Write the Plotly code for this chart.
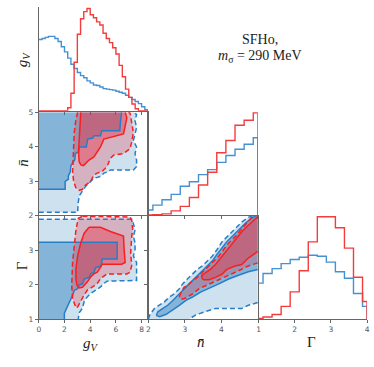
import numpy as np
import plotly.graph_objects as go

# ---- 1D marginals (normalised heights) ----
gv_centers = [0.125 + 0.25 * i for i in range(34)]
gv_blue = [0.69, 0.70, 0.71, 0.72, 0.72, 0.70, 0.67, 0.62, 0.57, 0.51, 0.45, 0.41,
           0.37, 0.34, 0.32, 0.29, 0.27, 0.25, 0.245, 0.23, 0.215, 0.21, 0.205, 0.20,
           0.19, 0.18, 0.17, 0.15, 0.13, 0.11, 0.09, 0.07, 0.04, 0.01]
gv_red = [0, 0, 0, 0, 0, 0, 0, 0, 0, 0.03, 0.17, 0.47, 0.74, 0.89, 0.96, 0.99,
          0.93, 0.90, 0.86, 0.83, 0.75, 0.70, 0.66, 0.61, 0.55, 0.44, 0.33, 0.21,
          0.13, 0.066, 0.02, 0, 0, 0]

nbar_centers = [2.0, 2.25, 2.5, 2.75, 3.0, 3.25, 3.5, 3.75, 4.0, 4.25, 4.5, 4.75, 5.0]
nbar_blue = [0.053, 0.10, 0.152, 0.205, 0.284, 0.328, 0.397, 0.446, 0.517, 0.584, 0.644, 0.694, 0.757]
nbar_red = [0.005, 0.006, 0.015, 0.044, 0.088, 0.175, 0.296, 0.42, 0.61, 0.73, 0.878, 0.928, 1.0]

gam_centers = [1.0, 1.25, 1.5, 1.75, 2.0, 2.25, 2.5, 2.75, 3.0, 3.25, 3.5, 3.75, 4.0]
gam_blue = [0.349, 0.443, 0.49, 0.538, 0.579, 0.60, 0.62, 0.61, 0.553, 0.459, 0.396, 0.248, 0.123]
gam_red = [0.006, 0.02, 0.044, 0.123, 0.264, 0.469, 0.75, 0.994, 0.994, 0.887, 0.689, 0.406, 0.17]

# ---- 2D credible regions (outer = dashed, inner = solid) ----
# g_V vs nbar
gn_blue_out_g = [0, 3.02, 3.07, 3.15, 3.40, 3.65, 4.04, 4.29, 4.80, 5.06, 5.44, 5.57, 7.36, 7.61,
                 7.61, 7.49, 7.61, 7.36, 7.49, 7.61, 7.49, 7.61, 7.36, 0]
gn_blue_out_n = [2.09, 2.09, 2.38, 2.57, 2.71, 2.85, 2.99, 3.08, 3.13, 3.23, 3.28, 3.32, 3.32, 3.42,
                 3.61, 3.80, 3.99, 4.18, 4.37, 4.56, 4.75, 4.94, 5.0, 5.0]
gn_blue_in_g = [0, 2.05, 2.05, 2.30, 2.30, 2.45, 2.50, 2.65, 2.80, 2.85, 3.10, 3.15, 3.70, 3.80,
                4.20, 4.30, 4.80, 4.90, 6.30, 6.35, 6.45, 6.45, 0]
gn_blue_in_n = [2.76, 2.76, 2.99, 3.05, 3.15, 3.27, 3.45, 3.55, 3.62, 3.80, 3.85, 3.99, 3.99, 4.22,
                4.25, 4.32, 4.32, 4.46, 4.46, 4.70, 4.97, 5.0, 5.0]
gn_red_out_g = [3.02, 2.89, 2.76, 2.71, 2.63, 2.63, 2.71, 2.89, 3.14, 3.40, 3.53, 3.78, 4.04, 4.17,
                4.29, 4.55, 4.93, 5.31, 5.57, 5.82, 6.59, 7.10, 7.23, 7.36, 7.23, 7.10, 6.97]
gn_red_out_n = [5.0, 4.79, 4.41, 4.03, 3.66, 3.28, 2.99, 2.80, 2.73, 2.76, 2.85, 2.92, 2.99, 3.09,
                3.18, 3.23, 3.28, 3.42, 3.66, 3.75, 3.80, 3.94, 4.13, 4.41, 4.70, 4.98, 5.0]
gn_red_in_g = [3.27, 3.22, 3.14, 3.09, 3.14, 3.27, 3.48, 3.65, 3.91, 4.29, 4.55, 4.80, 5.06, 5.57,
               6.21, 6.59, 6.72, 6.85, 6.72]
gn_red_in_n = [5.0, 4.70, 4.22, 3.85, 3.56, 3.47, 3.45, 3.52, 3.61, 3.70, 3.85, 3.99, 4.22, 4.27,
               4.32, 4.37, 4.60, 4.84, 5.0]

# g_V vs Gamma
gg_blue_out_g = [0, 7.23, 7.36, 7.49, 7.36, 7.49, 7.49, 7.36, 7.61, 7.61, 7.61, 5.31, 5.06, 4.80,
                 4.42, 4.04, 3.78, 3.53, 3.40, 3.14, 3.07, 0]
gg_blue_out_G = [3.89, 3.89, 3.77, 3.58, 3.40, 3.21, 3.02, 2.83, 2.64, 2.45, 2.12, 2.10, 2.03, 1.93,
                 1.84, 1.74, 1.65, 1.51, 1.32, 1.18, 1.0, 1.0]
gg_blue_in_g = [0, 6.10, 6.10, 4.93, 4.86, 4.42, 4.29, 4.04, 3.91, 3.53, 3.40, 3.14, 3.02, 2.76,
                2.63, 2.38, 2.12, 1.99, 1.99, 0]
gg_blue_in_G = [3.23, 3.23, 2.74, 2.74, 2.54, 2.49, 2.35, 2.31, 2.21, 2.16, 2.02, 1.99, 1.88, 1.83,
                1.69, 1.50, 1.31, 1.17, 1.0, 1.0]
gg_red_out_g = [3.40, 7.10, 7.23, 7.31, 7.23, 7.15, 7.23, 7.10, 6.85, 5.31, 4.80, 4.55, 4.17, 3.78,
                3.53, 3.27, 3.07, 2.97, 2.81, 2.63, 2.56, 2.63, 2.76, 2.89, 3.07]
gg_red_out_G = [3.98, 3.96, 3.87, 3.58, 3.40, 2.92, 2.55, 2.36, 2.31, 2.31, 2.17, 2.03, 1.93, 1.84,
                1.70, 1.51, 1.37, 1.32, 1.41, 1.60, 1.98, 2.64, 3.11, 3.58, 3.92]
gg_red_in_g = [3.91, 4.80, 5.57, 6.59, 6.64, 6.72, 6.46, 4.93, 4.80, 4.55, 4.29, 4.04, 3.78, 3.40,
               3.14, 2.97, 2.89, 2.89, 3.02, 3.27, 3.53]
gg_red_in_G = [3.66, 3.66, 3.54, 3.41, 3.02, 2.64, 2.59, 2.59, 2.50, 2.36, 2.31, 2.22, 2.08, 1.92,
               1.90, 1.98, 2.17, 2.45, 2.83, 3.21, 3.49]

# nbar vs Gamma
ng_blue_out_n = [2.0, 2.04, 2.17, 2.31, 2.44, 2.58, 2.71, 2.85, 2.94, 3.07, 3.21, 3.34, 3.48, 3.61,
                 3.75, 3.88, 4.02, 4.20, 4.38, 4.56, 4.74, 4.87, 5.0, 5.0, 4.74, 4.56, 4.38, 4.11,
                 3.84, 3.57, 3.30, 3.12]
ng_blue_out_G = [1.0, 1.12, 1.31, 1.40, 1.50, 1.64, 1.73, 1.88, 2.02, 2.16, 2.30, 2.44, 2.54, 2.68,
                 2.82, 3.01, 3.24, 3.43, 3.62, 3.81, 3.95, 4.0, 4.0, 1.48, 1.40, 1.31, 1.31, 1.33,
                 1.31, 1.22, 1.12, 1.0]
ng_blue_in_n = [2.22, 2.26, 2.40, 2.53, 2.67, 2.80, 2.94, 3.07, 3.21, 3.34, 3.48, 3.61, 3.75, 3.88,
                4.02, 4.15, 4.33, 4.51, 4.69, 4.87, 4.96, 5.0, 5.0, 4.74, 4.47, 4.20, 3.93, 3.66,
                3.43, 3.21, 3.03, 2.85, 2.67, 2.49, 2.31]
ng_blue_in_G = [1.10, 1.21, 1.31, 1.40, 1.54, 1.69, 1.83, 1.97, 2.11, 2.25, 2.40, 2.54, 2.68, 2.87,
                3.05, 3.24, 3.43, 3.62, 3.81, 3.95, 4.0, 4.0, 2.44, 2.37, 2.27, 2.16, 2.02, 1.88,
                1.78, 1.64, 1.54, 1.40, 1.26, 1.14, 1.07]
ng_red_out_n = [2.85, 2.90, 2.98, 3.12, 3.25, 3.39, 3.52, 3.66, 3.79, 3.93, 4.06, 4.20, 4.38, 4.56,
                4.74, 4.87, 5.0, 5.0, 4.74, 4.47, 4.20, 3.93, 3.66, 3.39, 3.21, 3.03, 2.90]
ng_red_out_G = [1.64, 1.78, 1.92, 2.02, 2.14, 2.25, 2.40, 2.54, 2.68, 2.82, 3.01, 3.20, 3.39, 3.62,
                3.86, 4.0, 4.0, 2.63, 2.54, 2.40, 2.27, 2.16, 2.02, 1.88, 1.73, 1.61, 1.57]
ng_red_in_n = [3.48, 3.46, 3.57, 3.70, 3.84, 4.02, 4.20, 4.38, 4.56, 4.74, 4.92, 5.0, 5.0, 4.74,
               4.56, 4.38, 4.15, 4.02, 3.84, 3.66, 3.52]
ng_red_in_G = [2.16, 2.25, 2.35, 2.44, 2.58, 2.82, 3.05, 3.29, 3.53, 3.72, 3.91, 3.97, 2.96, 2.77,
               2.58, 2.54, 2.44, 2.30, 2.21, 2.14, 2.14]

GV_RANGE = [0, 8.5]
N_RANGE = [2, 5]
G_RANGE = [1, 4]

BLUE_OUT = 'rgba(31,119,180,0.22)'
BLUE_IN = 'rgba(31,119,180,0.42)'
RED_OUT = 'rgba(235,40,60,0.25)'
RED_IN = 'rgba(235,40,60,0.40)'
BLUE_LINE = 'rgb(40,125,200)'
RED_LINE = 'rgb(250,30,30)'
BLUE_HIST = 'rgb(70,145,210)'
RED_HIST = 'rgb(245,60,60)'

W, H = 374, 367


def outline(xs, ys, xr, yr):
    # closed contour path, broken where it runs along the panel border
    xs = list(xs) + [xs[0]]
    ys = list(ys) + [ys[0]]
    ox, oy = [xs[0]], [ys[0]]
    for i in range(1, len(xs)):
        a, b = (xs[i - 1], ys[i - 1]), (xs[i], ys[i])
        on_edge = any(a[0] == v and b[0] == v for v in xr) or any(a[1] == v and b[1] == v for v in yr)
        if on_edge:
            ox += [None, b[0]]
            oy += [None, b[1]]
        else:
            ox.append(b[0])
            oy.append(b[1])
    return ox, oy


def steps(centers, vals, lo, hi):
    c = np.array(centers)
    edges = np.clip(np.concatenate([[c[0] - 0.125], c[:-1] + 0.125, [c[-1] + 0.125]]), lo, hi)
    return edges, list(vals) + [0]


fig = go.Figure()


def add_regions(xa, ya, regions, xr, yr):
    for xs, ys, fc, lc, dash in regions:
        fig.add_trace(go.Scatter(x=list(xs) + [xs[0]], y=list(ys) + [ys[0]], mode='lines',
                                 fill='toself', fillcolor=fc, line=dict(width=0),
                                 xaxis=xa, yaxis=ya, hoverinfo='skip', showlegend=False))
    for xs, ys, fc, lc, dash in regions:
        ox, oy = outline(xs, ys, xr, yr)
        fig.add_trace(go.Scatter(x=ox, y=oy, mode='lines', line=dict(color=lc, width=1.5, dash=dash),
                                 connectgaps=False, xaxis=xa, yaxis=ya, hoverinfo='skip', showlegend=False))


def add_hist(xa, ya, centers, vals, color, lo, hi):
    ex, ey = steps(centers, vals, lo, hi)
    fig.add_trace(go.Scatter(x=ex, y=ey, mode='lines', line=dict(color=color, width=1.4, shape='hv'),
                             xaxis=xa, yaxis=ya, hoverinfo='skip', showlegend=False))


DASH = '5px,3px'

# top-left: g_V marginal
add_hist('x', 'y', gv_centers, gv_blue, BLUE_HIST, *GV_RANGE)
add_hist('x', 'y', gv_centers, gv_red, RED_HIST, *GV_RANGE)

# g_V vs nbar
add_regions('x2', 'y2', [
    (gn_blue_out_g, gn_blue_out_n, BLUE_OUT, BLUE_LINE, DASH),
    (gn_blue_in_g, gn_blue_in_n, BLUE_IN, BLUE_LINE, 'solid'),
    (gn_red_out_g, gn_red_out_n, RED_OUT, RED_LINE, DASH),
    (gn_red_in_g, gn_red_in_n, RED_IN, RED_LINE, 'solid'),
], GV_RANGE, N_RANGE)

# nbar marginal
add_hist('x3', 'y3', nbar_centers, nbar_blue, BLUE_HIST, *N_RANGE)
add_hist('x3', 'y3', nbar_centers, nbar_red, RED_HIST, *N_RANGE)

# g_V vs Gamma
add_regions('x4', 'y4', [
    (gg_blue_out_g, gg_blue_out_G, BLUE_OUT, BLUE_LINE, DASH),
    (gg_blue_in_g, gg_blue_in_G, BLUE_IN, BLUE_LINE, 'solid'),
    (gg_red_out_g, gg_red_out_G, RED_OUT, RED_LINE, DASH),
    (gg_red_in_g, gg_red_in_G, RED_IN, RED_LINE, 'solid'),
], GV_RANGE, G_RANGE)

# nbar vs Gamma
add_regions('x5', 'y5', [
    (ng_blue_out_n, ng_blue_out_G, BLUE_OUT, BLUE_LINE, DASH),
    (ng_blue_in_n, ng_blue_in_G, BLUE_IN, BLUE_LINE, 'solid'),
    (ng_red_out_n, ng_red_out_G, RED_OUT, RED_LINE, DASH),
    (ng_red_in_n, ng_red_in_G, RED_IN, RED_LINE, 'solid'),
], N_RANGE, G_RANGE)

# Gamma marginal
add_hist('x6', 'y6', gam_centers, gam_blue, BLUE_HIST, *G_RANGE)
add_hist('x6', 'y6', gam_centers, gam_red, RED_HIST, *G_RANGE)

# panel domains (pixels -> paper)
col1 = [37.3 / W, 148.0 / W]
col2 = [148.3 / W, 259.3 / W]
col3 = [260.0 / W, 370.0 / W]
row1 = [1 - 109.5 / H, 1 - 3.0 / H]
row2 = [1 - 216.7 / H, 1 - 111.0 / H]
row3 = [1 - 323.0 / H, 1 - 216.9 / H]

base = dict(showgrid=False, zeroline=False, showline=True, linecolor='#666', linewidth=1,
            ticks='outside', ticklen=3, tickwidth=1, tickcolor='#666',
            tickfont=dict(family='DejaVu Sans', size=7.5, color='#555'))


def ax(**kw):
    d = dict(base)
    d.update(kw)
    return d


fig.update_layout(
    width=W, height=H, margin=dict(l=0, r=0, t=0, b=0),
    paper_bgcolor='white', plot_bgcolor='white', showlegend=False,
    xaxis=ax(domain=col1, range=GV_RANGE, anchor='y', tickvals=[0, 2, 4, 6, 8], showticklabels=False),
    yaxis=ax(domain=row1, range=[0, 1.005], anchor='x', ticks='', showticklabels=False),
    xaxis2=ax(domain=col1, range=GV_RANGE, anchor='y2', tickvals=[0, 2, 4, 6, 8], showticklabels=False, mirror=True),
    yaxis2=ax(domain=row2, range=N_RANGE, anchor='x2', tickvals=[2, 3, 4, 5], mirror=True),
    xaxis3=ax(domain=col2, range=N_RANGE, anchor='y3', tickvals=[2, 3, 4, 5], showticklabels=False),
    yaxis3=ax(domain=row2, range=[0, 1.005], anchor='x3', ticks='', showticklabels=False),
    xaxis4=ax(domain=col1, range=GV_RANGE, anchor='y4', tickvals=[0, 2, 4, 6, 8], mirror=True),
    yaxis4=ax(domain=row3, range=G_RANGE, anchor='x4', tickvals=[1, 2, 3], mirror=True),
    xaxis5=ax(domain=col2, range=N_RANGE, anchor='y5', tickvals=[2, 3, 4], mirror=True),
    yaxis5=ax(domain=row3, range=G_RANGE, anchor='x5', tickvals=[1, 2, 3, 4], showticklabels=False, mirror=True),
    xaxis6=ax(domain=col3, range=G_RANGE, anchor='y6', tickvals=[1, 2, 3, 4]),
    yaxis6=ax(domain=row3, range=[0, 1.005], anchor='x6', ticks='', showticklabels=False),
)

SERIF = 'Liberation Serif'


def label(text, x, y, angle=0, size=15):
    fig.add_annotation(text=text, x=x / W, y=1 - y / H, xref='paper', yref='paper',
                       showarrow=False, textangle=angle, xanchor='center', yanchor='middle',
                       font=dict(family=SERIF, size=size, color='#222'))


label('<i>g</i><sub><i>V</i></sub>', 21, 57, -90)
label('<i>n\u0304</i>', 21, 163, -90)
label('\u0393', 21, 268, -90)
label('<i>g</i><sub><i>V</i></sub>', 90, 349)
label('<i>n\u0304</i>', 202, 347)
label('\u0393', 314, 347)
label('SFHo,', 262, 36, size=14)
label('<i>m</i><sub>\u03c3</sub> = 290 MeV', 262, 54, size=14)

fig.write_html("out.html", config={'displayModeBar': False},
               post_script="document.body.style.margin='0';")
